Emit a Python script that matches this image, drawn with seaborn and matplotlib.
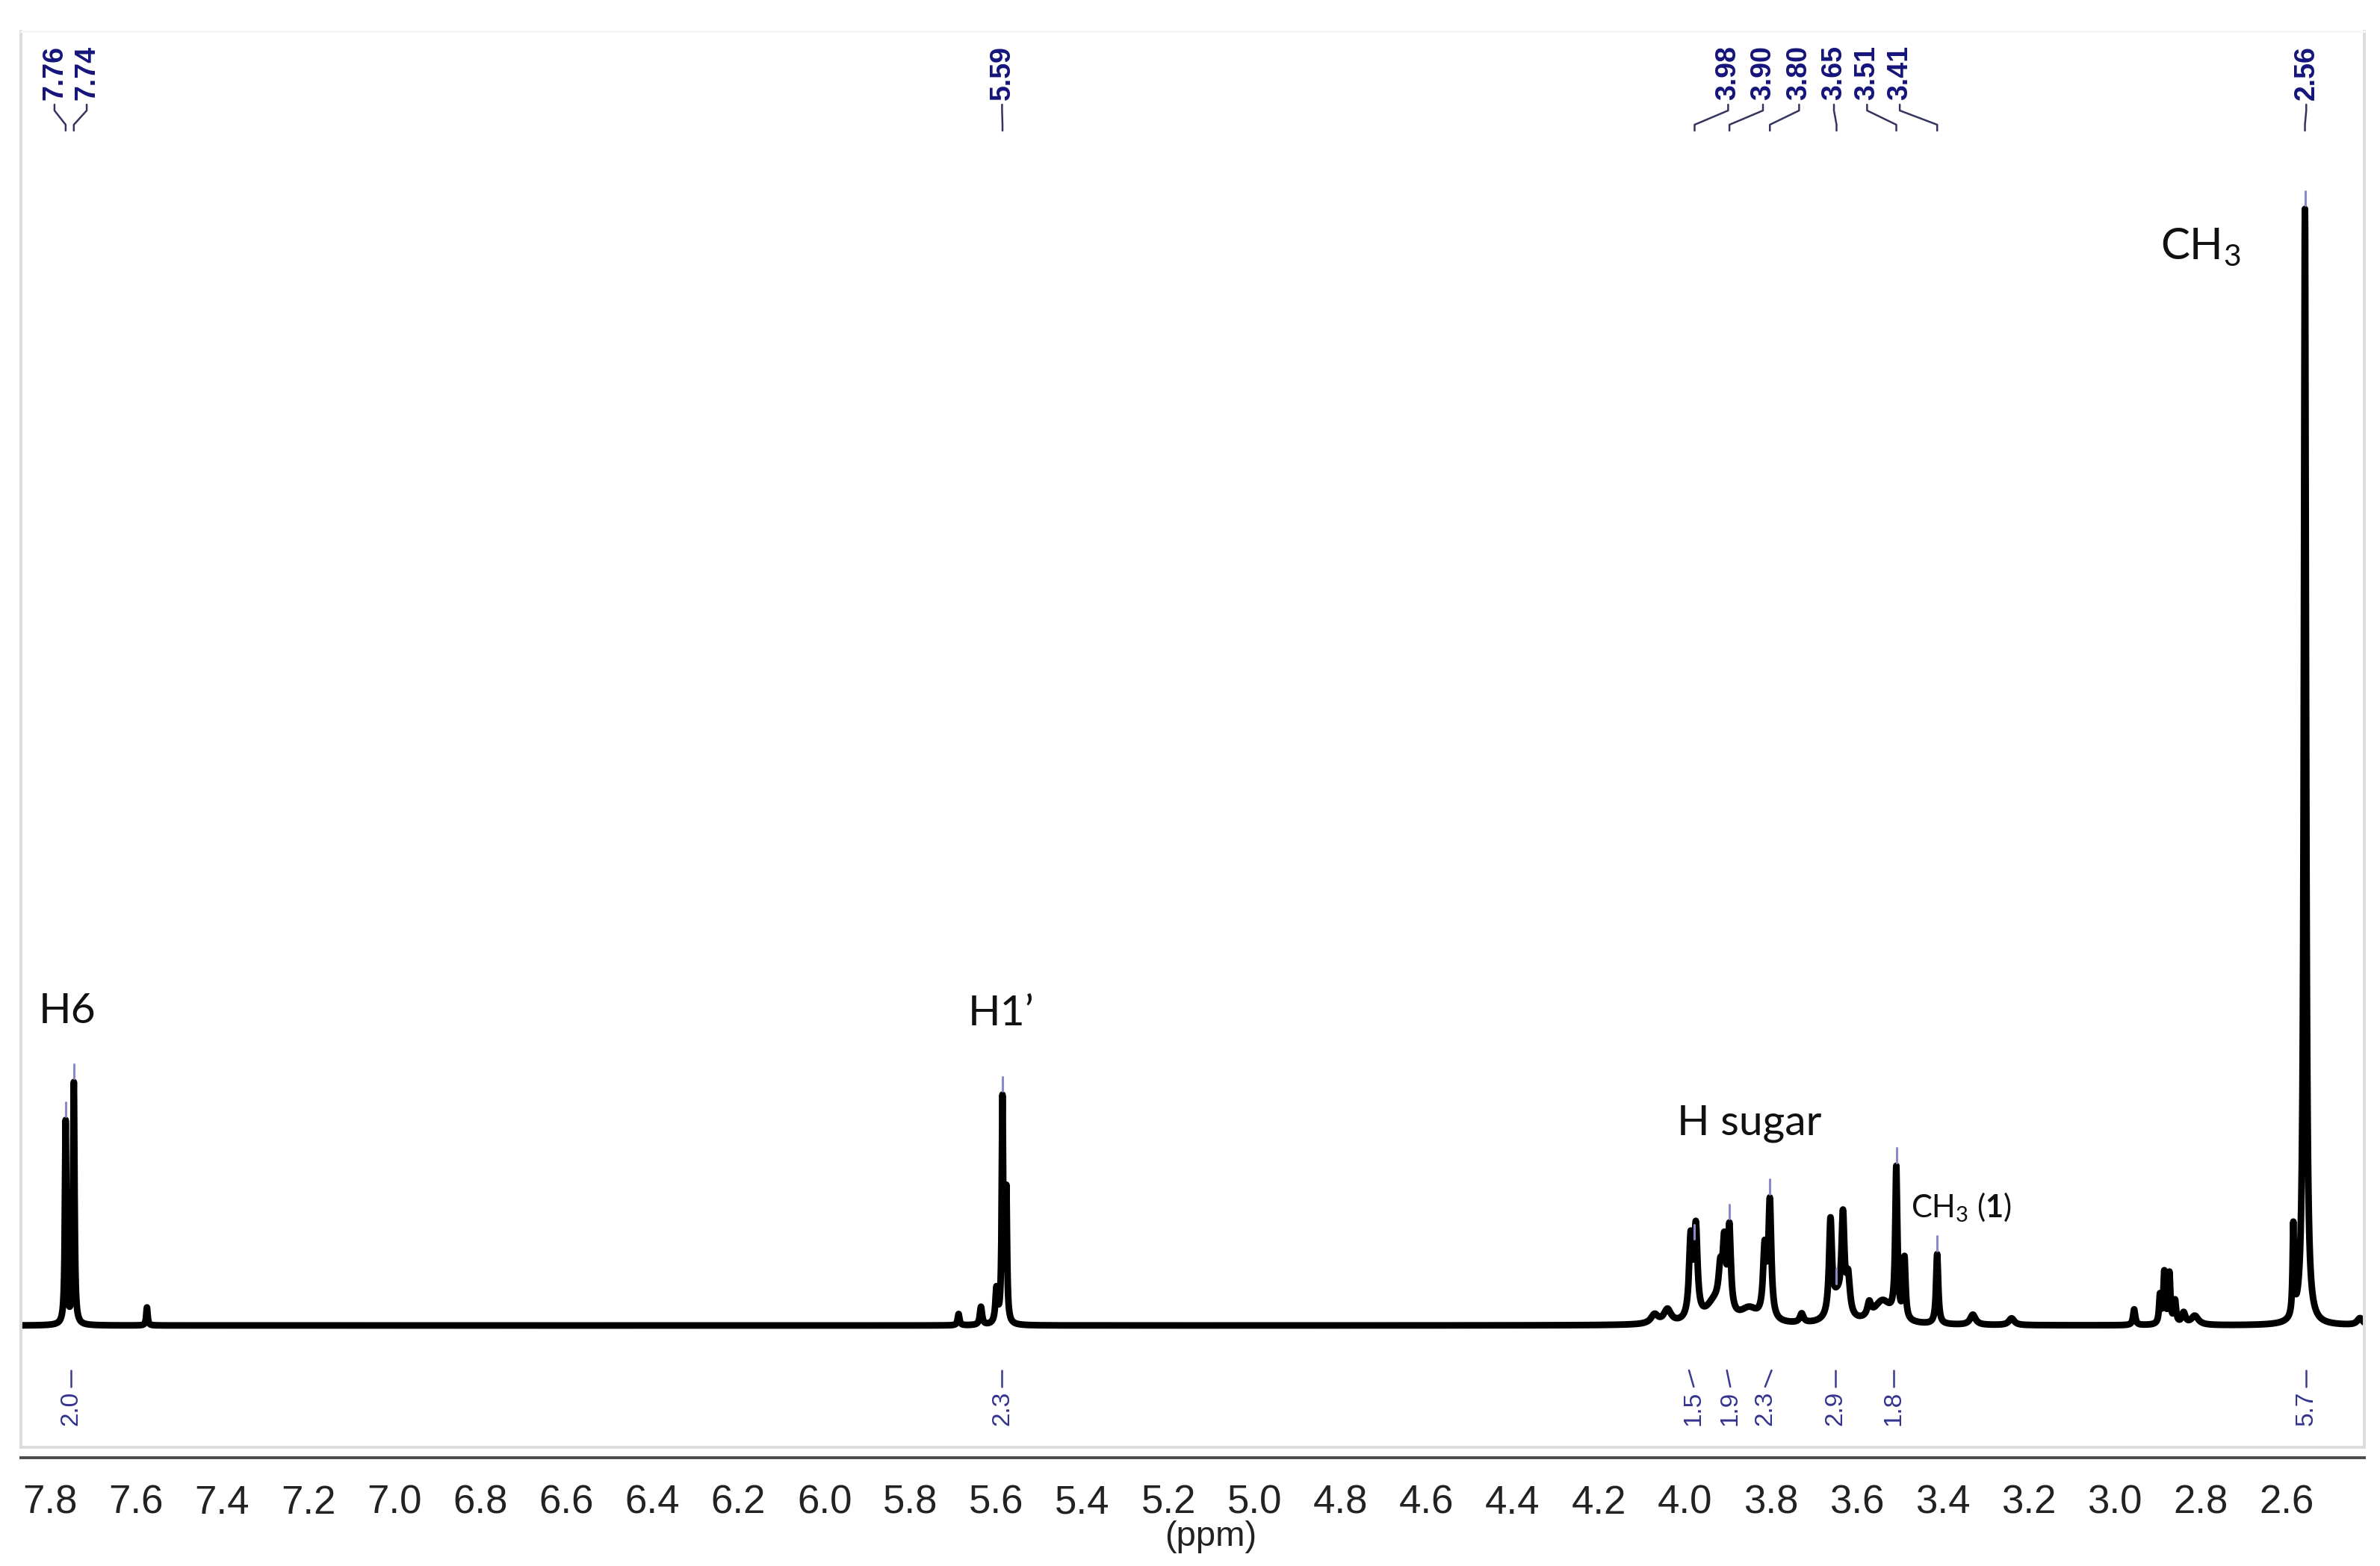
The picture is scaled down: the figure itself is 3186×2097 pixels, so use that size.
import numpy as np
import pandas as pd
import matplotlib
matplotlib.use('Agg')
import matplotlib.pyplot as plt
import matplotlib.transforms as mtransforms
from matplotlib.ticker import FixedLocator, MultipleLocator, FormatStrFormatter
import seaborn as sns

#%% dados lidos do espectro

# picos: posição (ppm), altura (CH3 = 100), largura a meia altura (ppm)
pico_ppm = [7.764, 7.745, 7.575,
            5.688, 5.636, 5.600, 5.586, 5.577,
            4.070, 4.040, 3.986, 3.974, 3.930, 3.917, 3.908, 3.896,
            3.850, 3.814, 3.802, 3.728, 3.661, 3.645, 3.632, 3.620,
            3.571, 3.540, 3.508, 3.489, 3.413, 3.330, 3.240,
            2.955, 2.895, 2.885, 2.873, 2.860, 2.840, 2.814,
            2.585, 2.558, 2.430]
pico_altura = [18.0, 21.4, 1.6,
               1.0, 1.6, 3.0, 19.8, 11.5,
               0.8, 1.2, 7.0, 7.8, 1.8, 3.2, 5.5, 7.4,
               1.2, 6.0, 10.2, 0.8, 8.3, 2.0, 8.3, 3.3,
               1.2, 2.0, 13.2, 5.4, 6.2, 0.9, 0.6,
               1.4, 2.5, 4.5, 4.4, 2.0, 1.0, 0.8,
               8.0, 99.0, 0.6]
pico_largura = [0.004, 0.004, 0.004,
                0.005, 0.006, 0.006, 0.004, 0.004,
                0.020, 0.020, 0.009, 0.009, 0.050, 0.010, 0.008, 0.008,
                0.050, 0.009, 0.008, 0.010, 0.008, 0.030, 0.008, 0.010,
                0.010, 0.050, 0.006, 0.006, 0.006, 0.015, 0.015,
                0.006, 0.005, 0.005, 0.005, 0.006, 0.010, 0.020,
                0.004, 0.006, 0.015]

# rótulos dos picos (topo)
rotulo_texto = ['7.76', '7.74', '5.59', '3.98', '3.90', '3.80', '3.65', '3.51', '3.41', '2.56']
rotulo_pico = [7.764, 7.745, 5.586, 3.977, 3.896, 3.802, 3.647, 3.508, 3.413, 2.558]
rotulo_x = [7.790, 7.715, 5.587, 3.899, 3.818, 3.734, 3.653, 3.576, 3.500, 2.555]

# integrais (base)
integral_texto = ['2.0', '2.3', '1.5', '1.9', '2.3', '2.9', '1.8', '5.7']
integral_x = [7.751, 5.587, 3.979, 3.894, 3.813, 3.649, 3.514, 2.555]
integral_topo = [7.751, 5.587, 3.990, 3.902, 3.798, 3.649, 3.514, 2.555]

# atribuições
atrib_texto = ['H6', 'H1\u2019', 'H sugar', r'CH$_3$', r'CH$_3$ ($\mathbf{1}$)']
atrib_x = [7.826, 5.667, 4.017, 2.894, 3.474]
atrib_y = [26.8, 26.6, 16.9, 94.6, 9.6]
atrib_tam = [20.5, 20.5, 20.5, 21, 15]

xticks_ppm = [7.8, 7.6, 7.4, 7.2, 7.0, 6.8, 6.6, 6.4, 6.2, 6.0, 5.8, 5.6, 5.4,
              5.2, 5.0, 4.8, 4.6, 4.4, 4.2, 4.0, 3.8, 3.6, 3.4, 3.2, 3.0, 2.8, 2.6]

#%% espectro como soma de lorentzianas

grade = np.union1d(np.linspace(2.42, 7.868, 12000), pico_ppm)
espectro = np.zeros_like(grade)
for p, h, w in zip(pico_ppm, pico_altura, pico_largura):
    g = w / 2
    espectro += h * g**2 / ((grade - p)**2 + g**2)
df = pd.DataFrame({'ppm': grade, 'intensidade': espectro})

#%% figura

sns.set_style('white')
plt.rcParams['font.family'] = ['Lato', 'DejaVu Sans']
plt.rcParams['mathtext.fontset'] = 'custom'
plt.rcParams['mathtext.rm'] = 'Lato'
plt.rcParams['mathtext.it'] = 'Lato:italic'
plt.rcParams['mathtext.bf'] = 'Lato:bold'

W, H = 3186, 2097
fig = plt.figure(figsize=(W / 200, H / 200), dpi=200)
fig.patch.set_facecolor('white')

# caixa do espectro (px da imagem original)
x0, x1, y0, y1 = 28, 3165, 42, 1938
ax = fig.add_axes([x0 / W, 1 - y1 / H, (x1 - x0) / W, (y1 - y0) / H])

def fy(ypx):
    # pixel vertical -> fração do eixo
    return 1 - (ypx - y0) / (y1 - y0)

sns.lineplot(data=df, x='ppm', y='intensidade', ax=ax, color='black',
             linewidth=3.2, estimator=None, sort=False, errorbar=None)
ax.set_xlim(7.868, 2.42)
ax.set_ylim(-10.8, 114.8)
ax.set_xlabel('')
ax.set_ylabel('')
ax.set_xticks([])
ax.set_yticks([])
for lado in ['left', 'right', 'bottom']:
    ax.spines[lado].set_color('#dcdcdc')
    ax.spines[lado].set_linewidth(1.4)
ax.spines['top'].set_color('#f7f7f7')
ax.spines['top'].set_linewidth(1.0)

misto = mtransforms.blended_transform_factory(ax.transData, ax.transAxes)

# marcas sobre os picos
for p in rotulo_pico:
    h = np.interp(p, grade, espectro)
    ax.plot([p, p], [h + 0.3, h + 1.6], color='#8a8ac8', lw=1.1, zorder=3)

# rótulos do topo
for txt, px, lx in zip(rotulo_texto, rotulo_pico, rotulo_x):
    ax.text(lx, fy(134), txt, rotation=90, ha='center', va='bottom', transform=misto,
            fontsize=13.5, fontweight='bold', color='#14147a', family='Liberation Sans')
    ax.plot([lx, lx, px, px], [fy(140), fy(148), fy(167), fy(175)], transform=misto,
            color='#34345e', lw=0.9, clip_on=False)

# integrais
for txt, ix, it in zip(integral_texto, integral_x, integral_topo):
    ax.plot([ix, it], [fy(1857), fy(1835)], transform=misto, color='#3a3a92', lw=0.9)
    ax.text(ix, fy(1863), txt, rotation=90, ha='center', va='top', transform=misto,
            fontsize=12, color='#33338f', family='Liberation Sans')

# atribuições
for txt, x, y, s in zip(atrib_texto, atrib_x, atrib_y, atrib_tam):
    ax.text(x, y, txt, ha='left', va='baseline', fontsize=s, color='#111111')

# escala de ppm separada, abaixo da caixa
ax_esc = fig.add_axes([x0 / W, 1 - 1952 / H, (x1 - x0) / W, 0.0005])
ax_esc.set_xlim(7.868, 2.42)
ax_esc.set_yticks([])
for lado in ['left', 'right', 'top']:
    ax_esc.spines[lado].set_visible(False)
ax_esc.spines['bottom'].set_color('#4a4a4a')
ax_esc.spines['bottom'].set_linewidth(1.4)
ax_esc.patch.set_visible(False)
ax_esc.xaxis.set_major_locator(FixedLocator(xticks_ppm))
ax_esc.xaxis.set_minor_locator(MultipleLocator(0.1))
ax_esc.xaxis.set_major_formatter(FormatStrFormatter('%.1f'))
ax_esc.tick_params(axis='x', which='major', direction='out', length=5.8, width=1.1,
                   color='#4a4a4a', pad=7, labelsize=19, labelcolor='#222222',
                   labelfontfamily=['Liberation Sans Narrow', 'Liberation Sans'])
ax_esc.tick_params(axis='x', which='minor', direction='out', length=2.9, width=1.0,
                   color='#4a4a4a')

fig.text(1621 / W, 1 - 2058 / H, '(ppm)', ha='center', va='center', fontsize=17,
         color='#222222', family=['Liberation Sans Narrow', 'Liberation Sans'])

fig.savefig('out.png', dpi=200, facecolor='white')
